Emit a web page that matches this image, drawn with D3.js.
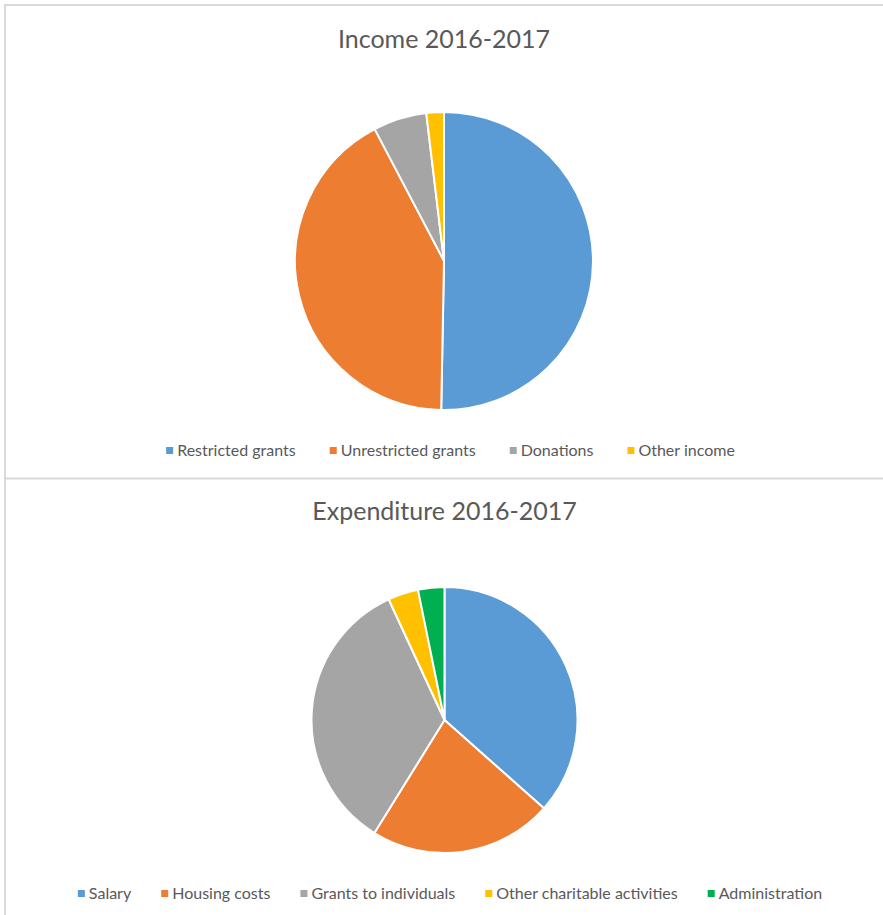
<!DOCTYPE html>
<html>
<head>
<meta charset="utf-8">
<script src="https://cdn.jsdelivr.net/npm/d3@7"></script>
<style>
  body { margin: 0; background: #fff; }
  text { font-family: Lato, "Liberation Sans", sans-serif; fill: #595959; }
</style>
</head>
<body>
<div id="chart"></div>
<script>
// Income data
const incomeCategories = ["Restricted grants", "Unrestricted grants", "Donations", "Other income"];
const incomeValues = [50.3, 42.0, 5.8, 1.9];

// Expenditure data
const expenditureCategories = ["Salary", "Housing costs", "Grants to individuals", "Other charitable activities", "Administration"];
const expenditureValues = [36.6, 22.3, 34.3, 3.7, 3.2];

const colors = ["#5b9bd5", "#ed7d31", "#a5a5a5", "#ffc000", "#00b050"];

const width = 883;
const height = 915;

const svg = d3.create("svg")
  .attr("width", width)
  .attr("height", height)
  .attr("viewBox", [0, 0, width, height]);

d3.select("#chart").append(() => svg.node());

// Frame lines
svg.append("path")
  .attr("d", "M5,915V5H883M5,478.5H883")
  .attr("fill", "none")
  .attr("stroke", "#d9d9d9")
  .attr("stroke-width", 2);

function drawPie(opts) {
  const { title, categories, values, cx, cy, r, titleY, legendY, legendX, gap } = opts;
  const data = categories.map((c, i) => ({ name: c, value: values[i] }));

  const color = d3.scaleOrdinal().domain(categories).range(colors);

  const pie = d3.pie().sort(null).value(d => d.value);
  const arc = d3.arc().innerRadius(0).outerRadius(r);

  const g = svg.append("g").attr("transform", `translate(${cx},${cy})`);
  g.selectAll("path")
    .data(pie(data))
    .join("path")
    .attr("d", arc)
    .attr("fill", d => color(d.data.name))
    .attr("stroke", "#fff")
    .attr("stroke-width", 2)
    .attr("stroke-linejoin", "round");

  svg.append("text")
    .attr("x", cx)
    .attr("y", titleY)
    .attr("text-anchor", "middle")
    .attr("font-size", 25)
    .text(title);

  // Legend, centered
  const legend = svg.append("g");
  const items = legend.selectAll("g")
    .data(categories)
    .join("g");
  items.append("rect")
    .attr("width", 7)
    .attr("height", 7)
    .attr("y", -9)
    .attr("fill", d => color(d));
  items.append("text")
    .attr("x", 11)
    .attr("font-size", 16)
    .text(d => d);

  let x = 0;
  items.each(function() {
    const w = this.querySelector("text").getComputedTextLength() + 11;
    d3.select(this).attr("transform", `translate(${x},0)`);
    x += w + gap;
  });
  const total = x - gap;
  legend.attr("transform", `translate(${legendX - total / 2},${legendY})`);
}

drawPie({
  title: "Income 2016-2017",
  categories: incomeCategories,
  values: incomeValues,
  cx: 444, cy: 261, r: 149,
  titleY: 48, legendY: 456, legendX: 450.5, gap: 34
});

drawPie({
  title: "Expenditure 2016-2017",
  categories: expenditureCategories,
  values: expenditureValues,
  cx: 444.5, cy: 720, r: 133,
  titleY: 520, legendY: 899, legendX: 450, gap: 30
});
</script>
</body>
</html>
